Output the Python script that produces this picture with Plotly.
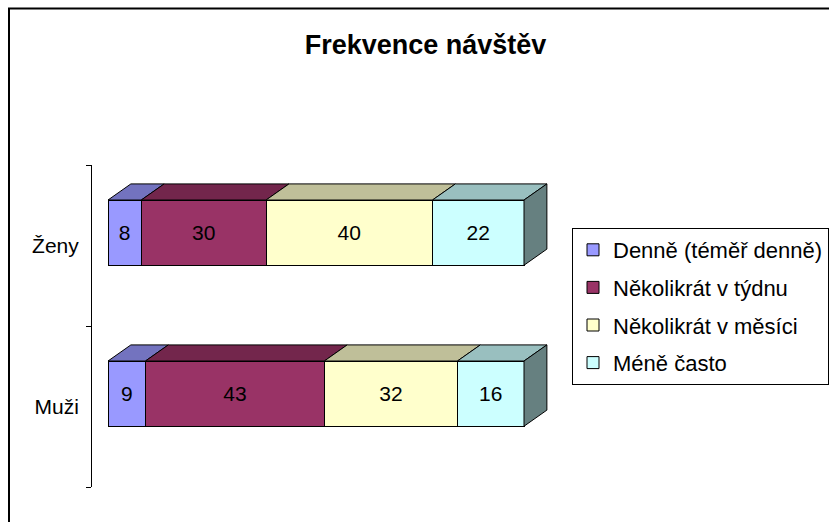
import plotly.graph_objects as go

categories = ["Muži", "Ženy"]
series_names = ["Denně (téměř denně)", "Několikrát v týdnu", "Několikrát v měsíci", "Méně často"]
values_muzi = [9, 43, 32, 16]
values_zeny = [8, 30, 40, 22]

front_colors = ["#9999FF", "#993366", "#FFFFCC", "#CCFFFF"]
top_colors = ["#7373BF", "#73264C", "#BFBF99", "#99BFBF"]
side_color = "#668080"

cat_pos = [0.5, 1.5]          # category centres on numeric axis
bar_shift = 0.08              # front face shifted up (3D floor)
bar_w = 0.405
dx, dy = 5.5, 0.10            # 3D depth offset in data units

vals = [values_muzi, values_zeny]
ypos = [p + bar_shift for p in cat_pos]

fig = go.Figure()

# front faces as real stacked bars
for i, name in enumerate(series_names):
    fig.add_trace(go.Bar(
        y=ypos, x=[vals[0][i], vals[1][i]], orientation="h", width=bar_w,
        name=name, legendgroup=name,
        marker=dict(color=front_colors[i], line=dict(color="black", width=1)),
        text=[str(vals[0][i]), str(vals[1][i])], textposition="inside",
        insidetextanchor="middle", textangle=0,
        textfont=dict(color="black", size=21, family="Liberation Sans, Arial"),
        hoverinfo="skip",
    ))

# top faces and side face, derived from the data
for i, name in enumerate(series_names):
    xs, ys = [], []
    for c in range(2):
        x0 = sum(vals[c][:i])
        x1 = x0 + vals[c][i]
        yt = ypos[c] + bar_w / 2
        xs += [x0, x1, x1 + dx, x0 + dx, x0, None]
        ys += [yt, yt, yt + dy, yt + dy, yt, None]
    fig.add_trace(go.Scatter(x=xs, y=ys, mode="lines", fill="toself",
                             fillcolor=top_colors[i], line=dict(color="black", width=1),
                             showlegend=False, hoverinfo="skip"))
xs, ys = [], []
for c in range(2):
    xe = sum(vals[c])
    yb = ypos[c] - bar_w / 2
    yt = ypos[c] + bar_w / 2
    xs += [xe, xe + dx, xe + dx, xe, xe, None]
    ys += [yb, yb + dy, yt + dy, yt, yb, None]
fig.add_trace(go.Scatter(x=xs, y=ys, mode="lines", fill="toself",
                         fillcolor=side_color, line=dict(color="black", width=1),
                         showlegend=False, hoverinfo="skip"))

W, H = 870, 522
L, T, B = 92, 165, 35
R = W - 560
pw, ph = W - L - R, H - T - B

fig.update_layout(
    width=W, height=H,
    margin=dict(l=L, r=R, t=T, b=B, autoexpand=False),
    barmode="stack",
    paper_bgcolor="white", plot_bgcolor="white",
    font=dict(family="Liberation Sans, Arial", size=21, color="black"),
    title=dict(text="<b>Frekvence návštěv</b>", x=425.5 / W, xanchor="center",
               y=1 - 45 / H, yanchor="middle", font=dict(size=27)),
    xaxis=dict(visible=False, range=[-16 / 4.16, (560 - 108) / 4.16]),
    yaxis=dict(range=[0, 2], showgrid=False, zeroline=False, showline=True,
               linecolor="black", linewidth=1, tickmode="array",
               tickvals=cat_pos, ticktext=categories, ticks="",
               ticklabelstandoff=8,
               minor=dict(tickmode="array", tickvals=[0, 1, 2], ticks="outside",
                          ticklen=5, tickcolor="black", tickwidth=1)),
    legend=dict(x=(572 - L) / pw, xanchor="left", y=(H - B - 228) / ph, yanchor="top",
                bordercolor="black", borderwidth=1, bgcolor="white",
                traceorder="grouped", tracegroupgap=6,
                font=dict(size=22)),
    shapes=[dict(type="rect", xref="paper", yref="paper",
                 x0=(9 - L) / pw, x1=(W + 20 - L) / pw,
                 y0=(H - B - 540) / ph, y1=(H - B - 8.5) / ph,
                 line=dict(color="black", width=2), fillcolor="rgba(0,0,0,0)",
                 layer="below")],
)

fig.write_html(
    "out.html",
    config={"displayModeBar": False},
    post_script="document.body.style.margin='0px';document.body.style.overflow='hidden';",
)
